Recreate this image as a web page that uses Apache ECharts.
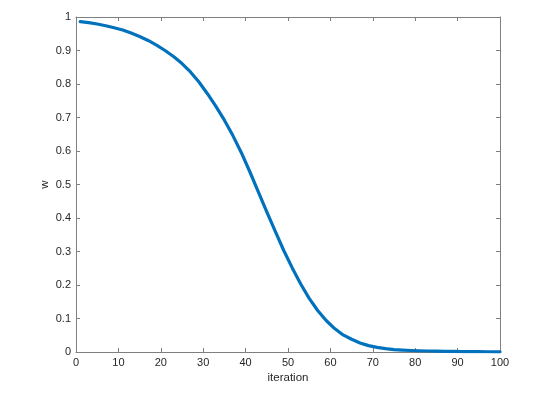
<!DOCTYPE html>
<html>
<head>
<meta charset="utf-8">
<script src="https://cdn.jsdelivr.net/npm/echarts@6/dist/echarts.min.js"></script>
<style>html,body{margin:0;padding:0;background:#fff}#c{width:557px;height:402px}</style>
</head>
<body>
<div id="c"></div>
<script>
var iterations = [1, 3, 5, 7, 9, 11, 13, 15, 17, 19, 21, 23, 25, 27, 29, 31, 33, 35, 37, 39, 41, 43, 45, 47, 49,
  51, 53, 55, 57, 59, 61, 63, 65, 67, 69, 71, 73, 75, 77, 79, 81, 83, 85, 87, 89, 91, 93, 95, 97, 99, 100];
var wValues = [0.986, 0.983, 0.979, 0.974, 0.968, 0.961, 0.952, 0.942, 0.930, 0.916, 0.900, 0.882, 0.861, 0.836,
  0.806, 0.771, 0.733, 0.692, 0.646, 0.595, 0.538, 0.478, 0.418, 0.360, 0.303, 0.251, 0.203, 0.160, 0.124, 0.094,
  0.070, 0.051, 0.038, 0.027, 0.019, 0.014, 0.010, 0.007, 0.0055, 0.0045, 0.0037, 0.0030, 0.0025, 0.0020, 0.0016,
  0.0013, 0.0011, 0.0009, 0.0007, 0.0006, 0.0005];
var xTitle = 'iteration';
var yTitle = 'w';

var seriesData = iterations.map(function (x, i) { return [x, wValues[i]]; });
var font = 'Liberation Sans, Helvetica, Arial, sans-serif';
var axisColor = '#7f7f7f';
var textColor = '#262626';

function xAx(pos, showLabel) {
  return {
    type: 'value', position: pos, min: 0, max: 100, interval: 10,
    name: showLabel ? xTitle : '', nameLocation: 'middle', nameGap: 20, nameMoveOverlap: false,
    nameTextStyle: { color: textColor, fontSize: 11.5, fontFamily: font },
    axisLine: { show: true, onZero: false, lineStyle: { color: axisColor, width: 1 } },
    axisTick: { show: true, inside: true, length: 4, lineStyle: { color: axisColor } },
    axisLabel: { show: showLabel, color: textColor, fontSize: 11, fontFamily: font, margin: 5 },
    splitLine: { show: false }
  };
}
function yAx(pos, showLabel) {
  return {
    type: 'value', position: pos, min: 0, max: 1, interval: 0.1,
    name: showLabel ? yTitle : '', nameLocation: 'middle', nameGap: 25, nameRotate: 90, nameMoveOverlap: false,
    nameTextStyle: { color: textColor, fontSize: 11.5, fontFamily: font },
    axisLine: { show: true, onZero: false, lineStyle: { color: axisColor, width: 1 } },
    axisTick: { show: true, inside: true, length: 4, lineStyle: { color: axisColor } },
    axisLabel: { show: showLabel, color: textColor, fontSize: 11, fontFamily: font, margin: 5,
      formatter: function (v) { return +v.toFixed(1) + ''; } },
    splitLine: { show: false }
  };
}

var chart = echarts.init(document.getElementById('c'), null, { renderer: 'canvas' });
chart.setOption({
  animation: false,
  backgroundColor: '#ffffff',
  grid: { left: 76, right: 57, top: 17, bottom: 50, containLabel: false },
  xAxis: [xAx('bottom', true), xAx('top', false)],
  yAxis: [yAx('left', true), yAx('right', false)],
  series: [{
    type: 'line', xAxisIndex: 0, yAxisIndex: 0,
    data: seriesData, smooth: false, showSymbol: false,
    lineStyle: { color: '#0072BD', width: 3.2, join: 'round', cap: 'round' }
  }]
});
</script>
</body>
</html>
